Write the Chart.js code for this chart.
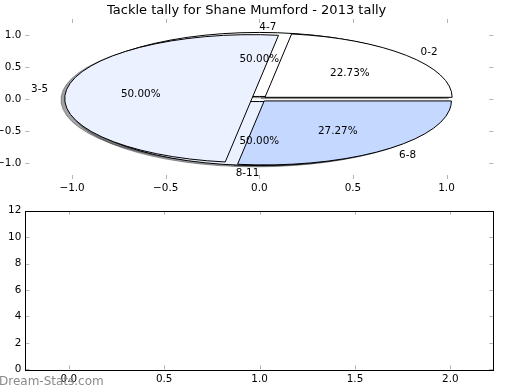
<!DOCTYPE html>
<html><head><meta charset="utf-8">
<script src="https://cdn.jsdelivr.net/npm/chart.js@4"></script>
<style>
html,body{margin:0;padding:0;background:#fff;width:520px;height:390px;overflow:hidden}
canvas{position:absolute;left:0}
#top{top:0}
#bot{top:200px}
</style></head><body>
<canvas id="top" width="520" height="200"></canvas>
<canvas id="bot" width="520" height="190"></canvas>
<script>
// ---- data ----
const titleText = 'Tackle tally for Shane Mumford - 2013 tally';
const pieLabels = ['0-2', '3-5', '6-8'];
const pieValues = [5, 11, 6];
const pie2Labels = ['4-7', '8-11'];
const pie2Values = [1, 1];
const pieColors = ['#ffffff', '#ebf1ff', '#c5d8ff'];
const explodeAmt = 0.04;
const topTicks = [-1.0, -0.5, 0.0, 0.5, 1.0];
const botXTicks = [0.0, 0.5, 1.0, 1.5, 2.0];
const botYTicks = [0, 2, 4, 6, 8, 10, 12];
const watermark = 'Dream-Stats.com';

Chart.defaults.font.family = 'DejaVu Sans';
Chart.defaults.color = '#000';
const TICK_FONT = {size: 10.4, family: 'DejaVu Sans'};
const NO_GRID = {display: false, drawTicks: false, tickLength: 0};

const fmt1 = v => (v < 0 ? '\u2212' : '') + Math.abs(v).toFixed(1);

function layoutPie(p) {
  const total = p.values.reduce((a, b) => a + b, 0);
  let t1 = 0;
  return p.values.map((v, i) => {
    const t2 = t1 + v / total;
    const m = Math.PI * (t1 + t2);
    const w = {
      a1: 2 * Math.PI * t1, a2: 2 * Math.PI * t2, m,
      cx: p.explode * Math.cos(m), cy: p.explode * Math.sin(m),
      label: p.labels[i], pct: (100 * v / total).toFixed(2) + '%',
      color: p.colors[i % p.colors.length]
    };
    t1 = t2;
    return w;
  });
}

function hexToRgb(h) {
  const n = parseInt(h.slice(1), 16);
  return [(n >> 16) & 255, (n >> 8) & 255, n & 255];
}

const piePlugin = {
  id: 'ellipsePie',
  afterDatasetsDraw(chart) {
    const {ctx, scales: {x, y}} = chart;
    const rx = x.getPixelForValue(1) - x.getPixelForValue(0);
    const ry = y.getPixelForValue(0) - y.getPixelForValue(1);
    const pies = chart.data.datasets.filter(d => d.pie).map(d => layoutPie(d.pie));
    const path = (w, ox, oy) => {
      const pcx = x.getPixelForValue(w.cx + ox), pcy = y.getPixelForValue(w.cy + oy);
      ctx.beginPath();
      ctx.moveTo(pcx, pcy);
      ctx.ellipse(pcx, pcy, rx, ry, 0, -w.a1, -w.a2, true);
      ctx.closePath();
    };
    ctx.save();
    // shadows
    pies.forEach(ws => ws.forEach(w => {
      const c = hexToRgb(w.color).map(v => Math.round(v * 0.3));
      path(w, -0.02, -0.02);
      ctx.fillStyle = `rgba(${c[0]},${c[1]},${c[2]},0.5)`;
      ctx.strokeStyle = ctx.fillStyle;
      ctx.lineWidth = 1;
      ctx.fill(); ctx.stroke();
    }));
    // wedges
    pies.forEach(ws => ws.forEach(w => {
      path(w, 0, 0);
      ctx.fillStyle = w.color;
      ctx.fill();
      ctx.strokeStyle = '#000';
      ctx.lineWidth = 1;
      ctx.lineJoin = 'round';
      ctx.stroke();
    }));
    // texts
    ctx.fillStyle = '#000';
    ctx.font = '10.4px "DejaVu Sans"';
    ctx.textBaseline = 'middle';
    const dy = 1;
    pies.forEach(ws => ws.forEach(w => {
      const lx = w.cx + 1.1 * Math.cos(w.m), ly = w.cy + 1.1 * Math.sin(w.m);
      ctx.textAlign = lx > 0 ? 'left' : 'right';
      ctx.fillText(w.label, x.getPixelForValue(lx), y.getPixelForValue(ly) + dy);
      const px = w.cx + 0.6 * Math.cos(w.m), py = w.cy + 0.6 * Math.sin(w.m);
      ctx.textAlign = 'center';
      ctx.fillText(w.pct, x.getPixelForValue(px), y.getPixelForValue(py) + dy);
    }));
    ctx.restore();
  }
};

const innerTicks = {
  id: 'innerTicks',
  afterDraw(chart, args, opts) {
    const {ctx, chartArea: a, scales: {x, y}} = chart;
    ctx.save();
    ctx.strokeStyle = '#b4b4b4';
    ctx.lineWidth = 1;
    ctx.beginPath();
    x.ticks.forEach(t => {
      const p = Math.round(x.getPixelForValue(t.value)) + 0.5;
      ctx.moveTo(p, a.top); ctx.lineTo(p, a.top + 4);
      ctx.moveTo(p, a.bottom); ctx.lineTo(p, a.bottom - 4);
    });
    y.ticks.forEach(t => {
      const p = Math.round(y.getPixelForValue(t.value)) + 0.5;
      ctx.moveTo(a.left, p); ctx.lineTo(a.left + 4, p);
      ctx.moveTo(a.right, p); ctx.lineTo(a.right - 4, p);
    });
    ctx.stroke();
    if (opts.frame) {
      ctx.strokeStyle = '#000';
      ctx.lineWidth = 1;
      ctx.strokeRect(Math.round(a.left) + 0.5, Math.round(a.top) + 0.5,
        Math.round(a.right - a.left), Math.round(a.bottom - a.top));
    }
    if (opts.watermark) {
      ctx.fillStyle = '#8a8a8a';
      ctx.font = '12px "DejaVu Sans"';
      ctx.textAlign = 'left';
      ctx.textBaseline = 'middle';
      ctx.fillText(opts.watermark, -1, chart.height - 8.5);
    }
    ctx.restore();
  }
};

new Chart(document.getElementById('top'), {
  type: 'scatter',
  data: {datasets: [
    {label: 'inner', data: [], pie: {labels: pie2Labels, values: pie2Values, colors: pieColors, explode: explodeAmt}},
    {label: 'tally', data: [], pie: {labels: pieLabels, values: pieValues, colors: pieColors, explode: explodeAmt}}
  ]},
  options: {
    responsive: false, animation: false, devicePixelRatio: 1,
    layout: {autoPadding: false, padding: {left: 0, right: 26.7, top: 0, bottom: 0}},
    plugins: {
      legend: {display: false}, tooltip: {enabled: false},
      title: {display: true, text: titleText, color: '#000',
        font: {size: 13, family: 'DejaVu Sans', weight: 'normal', lineHeight: 1.2},
        padding: {top: 3, bottom: 0.4}},
      innerTicks: {frame: false}
    },
    scales: {
      x: {type: 'linear', min: -1.25, max: 1.25,
        grid: NO_GRID, border: {display: false},
        afterBuildTicks: s => { s.ticks = topTicks.map(v => ({value: v})); },
        afterFit: s => { s.height = 21; },
        ticks: {padding: 3, color: '#000', font: TICK_FONT, maxRotation: 0, autoSkip: false, callback: fmt1}},
      y: {type: 'linear', min: -1.25, max: 1.25,
        grid: NO_GRID, border: {display: false},
        afterBuildTicks: s => { s.ticks = topTicks.map(v => ({value: v})); },
        afterFit: s => { s.width = 25.3; },
        ticks: {padding: 4, color: '#000', font: TICK_FONT, autoSkip: false, callback: fmt1}}
    }
  },
  plugins: [piePlugin, innerTicks]
});

new Chart(document.getElementById('bot'), {
  type: 'scatter',
  data: {datasets: [{label: 'empty', data: []}]},
  options: {
    responsive: false, animation: false, devicePixelRatio: 1,
    layout: {autoPadding: false, padding: {left: 0, right: 26.7, top: 10.7, bottom: 0}},
    plugins: {legend: {display: false}, tooltip: {enabled: false},
      innerTicks: {frame: true, watermark: watermark}},
    scales: {
      x: {type: 'linear', min: -0.228, max: 2.225,
        grid: NO_GRID, border: {display: false},
        afterBuildTicks: s => { s.ticks = botXTicks.map(v => ({value: v})); },
        afterFit: s => { s.height = 20.7; },
        ticks: {padding: 4, color: '#000', font: TICK_FONT, maxRotation: 0, autoSkip: false, callback: v => v.toFixed(1)}},
      y: {type: 'linear', min: 0, max: 12,
        grid: NO_GRID, border: {display: false},
        afterBuildTicks: s => { s.ticks = botYTicks.map(v => ({value: v})); },
        afterFit: s => { s.width = 25.3; },
        ticks: {padding: 4, color: '#000', font: TICK_FONT, autoSkip: false, callback: v => String(v)}}
    }
  },
  plugins: [innerTicks]
});
</script>
</body></html>
